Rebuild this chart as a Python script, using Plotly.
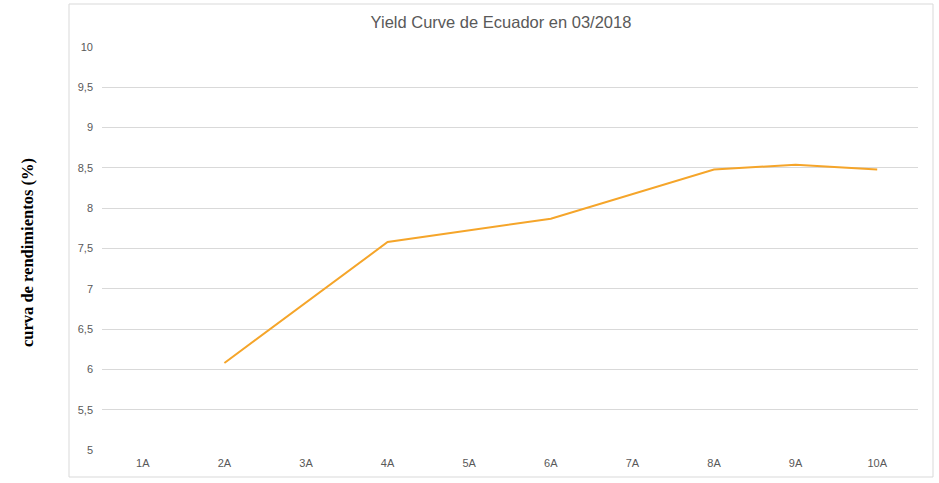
import plotly.graph_objects as go

# plazos y rendimientos (%); None = sin dato
plazos = ['1A', '2A', '3A', '4A', '5A', '6A', '7A', '8A', '9A', '10A']
rendimiento = [None, 6.08, None, 7.58, None, 7.87, None, 8.48, 8.54, 8.48]
ticks_y = [5, 5.5, 6, 6.5, 7, 7.5, 8, 8.5, 9, 9.5, 10]

fig = go.Figure()
fig.add_trace(go.Scatter(x=plazos, y=rendimiento, mode='lines', connectgaps=True,
                         line=dict(color='#F5A52A', width=2), name='Yield'))

gris = '#595959'
fig.update_layout(
    template='none',
    width=939, height=483,
    margin=dict(l=102, r=21, t=47, b=33),
    paper_bgcolor='white', plot_bgcolor='white',
    showlegend=False,
    separators=',.',
    font=dict(family='Liberation Sans, Arial', size=11, color=gris),
    title=dict(text='Yield Curve de Ecuador en 03/2018', x=501/939, xref='container',
               y=1-22/483, yref='container', xanchor='center', yanchor='middle',
               font=dict(size=16.5, color=gris)),
)
fig.update_xaxes(range=[-0.5, 9.5], showgrid=False, showline=False, zeroline=False, ticks='',
                 ticklabelstandoff=5, tickfont=dict(size=11, color=gris))
fig.update_yaxes(range=[5, 10], tickvals=ticks_y, showgrid=True, gridcolor='#d9d9d9',
                 gridwidth=1, zeroline=False, showline=False, ticks='',
                 ticklabelstandoff=8, tickfont=dict(size=11, color=gris))

# titulo del eje y (serif, negrita)
fig.add_annotation(text='<b>curva de rendimientos (%)</b>', textangle=-90,
                   xref='paper', yref='paper', x=(28-102)/816, y=(450-253)/403,
                   xanchor='center', yanchor='middle', showarrow=False,
                   font=dict(family='Liberation Serif, Times New Roman', size=16.5, color='black'))

# marco del area del grafico
fig.add_shape(type='rect', xref='paper', yref='paper',
              x0=(69-102)/816, x1=(933-102)/816, y0=(450-477)/403, y1=(450-4)/403,
              line=dict(color='#d9d9d9', width=1), fillcolor='rgba(0,0,0,0)', layer='below')

# quitar el margen del body para que el grafico quede en (0,0)
fig.write_html('out.html', config={'displayModeBar': False},
               post_script="document.body.style.margin='0';")
